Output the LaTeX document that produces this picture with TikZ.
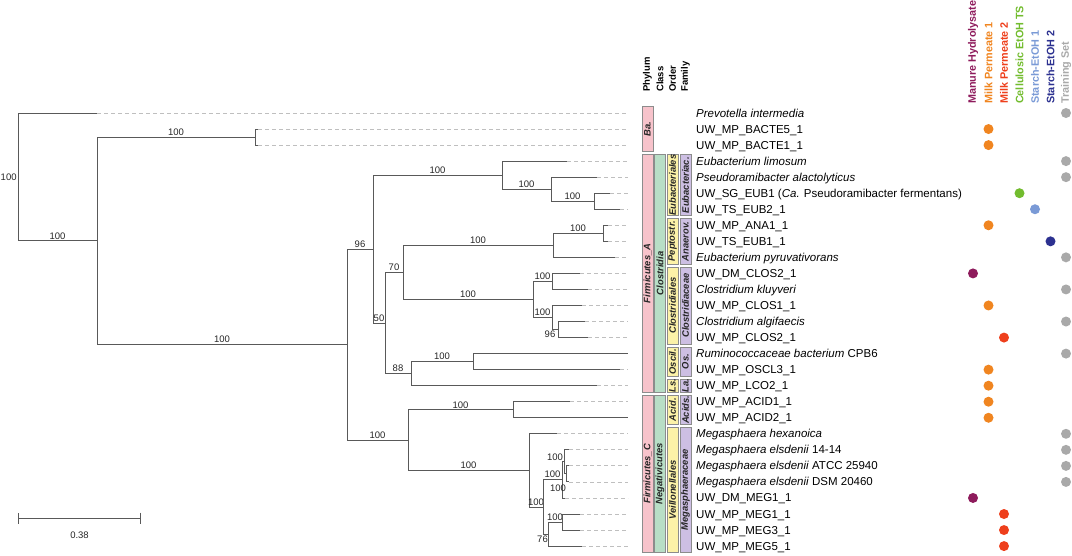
\documentclass[tikz,border=0pt]{standalone}
\usepackage{fontspec}
\setmainfont{Liberation Sans}
\usepackage{xcolor}
\usetikzlibrary{arrows.meta}
\definecolor{set1}{HTML}{8E1B5C}
\definecolor{set2}{HTML}{F08520}
\definecolor{set3}{HTML}{EE3F1C}
\definecolor{set4}{HTML}{72BC2E}
\definecolor{set5}{HTML}{7A9AD6}
\definecolor{set6}{HTML}{2C3190}
\definecolor{set7}{HTML}{A9A9A9}
\definecolor{phylfill}{HTML}{F7C3CB}
\definecolor{classfill}{HTML}{B8DEC6}
\definecolor{orderfill}{HTML}{FCF2A8}
\definecolor{famfill}{HTML}{CDBFE3}
\tikzset{
  treeedge/.style  = {black!65, line width=0.9pt},
  leafdash/.style  = {black!25, line width=0.8pt, dash pattern=on 4pt off 3pt},
  bootlabel/.style = {font=\fontsize{9.5}{10}\selectfont, text=black!85, inner sep=1.2pt},
  leaflabel/.style = {font=\fontsize{11.5}{13}\selectfont, anchor=base west, inner sep=0pt},
  taxtext/.style   = {font=\fontsize{9.4}{10}\selectfont\bfseries\itshape, rotate=90, inner sep=0pt, text=black!85},
  taxhead/.style   = {font=\fontsize{9.5}{10}\selectfont\bfseries, rotate=90, anchor=west, inner sep=0pt},
  sethead/.style   = {font=\fontsize{10.8}{12}\selectfont\bfseries, rotate=90, anchor=west, inner sep=0pt},
  setdot/.style    = {circle, inner sep=0pt, minimum size=10pt},
  phylbar/.style   = {fill=phylfill, draw=black!45, line width=0.6pt},
  classbar/.style  = {fill=classfill, draw=black!45, line width=0.6pt},
  orderbar/.style  = {fill=orderfill, draw=black!45, line width=0.6pt},
  fambar/.style    = {fill=famfill, draw=black!45, line width=0.6pt},
  scalebar/.style  = {treeedge, {Bar[width=11pt]}-{Bar[width=11pt]}},
}
% name, column centre, first row, last row, style, label
\newcommand{\taxbar}[6]{%
  \path[#5] ({#2-5.5},{113+16.04*(#3-1)-6.5}) rectangle ({#2+5.5},{113+16.04*(#4-1)+6.5});
  \node[taxtext] (#1) at (#2,{113+16.04*((#3+#4)/2-1)}) {#6};}

\begin{document}
\begin{tikzpicture}[x=1pt,y=-1pt]
  \useasboundingbox (0,0) rectangle (1072,555);

  % leaves, labels and dataset dots
  \foreach \i/\tip/\ds/\txt in {
    1/97/7/{\textit{Prevotella intermedia}},
    2/258/2/{UW\_MP\_BACTE5\_1},
    3/258/2/{UW\_MP\_BACTE1\_1},
    4/567/7/{\textit{Eubacterium limosum}},
    5/597/7/{\textit{Pseudoramibacter alactolyticus}},
    6/610/4/{UW\_SG\_EUB1 (\textit{Ca.} Pseudoramibacter fermentans)},
    7/620/5/{UW\_TS\_EUB2\_1},
    8/608/2/{UW\_MP\_ANA1\_1},
    9/608/6/{UW\_TS\_EUB1\_1},
    10/615/7/{\textit{Eubacterium pyruvativorans}},
    11/580/1/{UW\_DM\_CLOS2\_1},
    12/588/7/{\textit{Clostridium kluyveri}},
    13/582/2/{UW\_MP\_CLOS1\_1},
    14/585/7/{\textit{Clostridium algifaecis}},
    15/588/3/{UW\_MP\_CLOS2\_1},
    16/628/7/{\textit{Ruminococcaceae bacterium} CPB6},
    17/620/2/{UW\_MP\_OSCL3\_1},
    18/597/2/{UW\_MP\_LCO2\_1},
    19/570/2/{UW\_MP\_ACID1\_1},
    20/628/2/{UW\_MP\_ACID2\_1},
    21/557/7/{\textit{Megasphaera hexanoica}},
    22/569/7/{\textit{Megasphaera elsdenii} 14-14},
    23/569/7/{\textit{Megasphaera elsdenii} ATCC 25940},
    24/569/7/{\textit{Megasphaera elsdenii} DSM 20460},
    25/565/1/{UW\_DM\_MEG1\_1},
    26/580/3/{UW\_MP\_MEG1\_1},
    27/580/3/{UW\_MP\_MEG3\_1},
    28/582/3/{UW\_MP\_MEG5\_1}} {
    \coordinate (L\i) at (\tip,{113+16.04*(\i-1)});
    \coordinate (E\i) at (628,{113+16.04*(\i-1)});
    \draw[leafdash] (L\i) -- (E\i);
    \node[leaflabel] (lab\i) at (696,{113+16.04*(\i-1)+4}) {\txt};
    \node[setdot, fill=set\ds] (dot\i) at ({973+15.5*(\ds-1)},{113+16.04*(\i-1)}) {};
  }

  % internal nodes
  \coordinate (root) at (18,176.9);
  \coordinate (nTop) at (97,240.8);
  \coordinate (nBac) at (255,137.0);
  \coordinate (nA) at (347,344.6);
  \coordinate (nB) at (373,249.1);
  \coordinate (nEub1) at (502,175.1);
  \coordinate (nEub2) at (551,189.2);
  \coordinate (nEub3) at (594,201.2);
  \coordinate (nC70) at (385,323.0);
  \coordinate (nPep) at (403,272.4);
  \coordinate (nAna1) at (553,245.3);
  \coordinate (nAna2) at (603,233.3);
  \coordinate (nClos1) at (533,299.5);
  \coordinate (nClos2) at (552,281.4);
  \coordinate (nClos3) at (552,317.5);
  \coordinate (nClos4) at (558,329.5);
  \coordinate (nOsc1) at (411,373.7);
  \coordinate (nOsc2) at (473,361.6);
  \coordinate (nNeg) at (408,440.1);
  \coordinate (nAcid) at (513,409.8);
  \coordinate (nMo) at (529,470.4);
  \coordinate (nMp) at (543,507.0);
  \coordinate (nMs1) at (562,479.9);
  \coordinate (nMs2) at (564,461.9);
  \coordinate (nMs3) at (566,473.9);
  \coordinate (nMq) at (548,534.0);
  \coordinate (nMr) at (562,522.0);

  % branches
  \node[bootlabel, anchor=east] (bsroot) at (root) {100};
  \draw[treeedge] (root) |- (L1);
  \draw[treeedge] (root) |- node[bootlabel, above, pos=.75] {100} (nTop);
  \draw[treeedge] (nTop) |- node[bootlabel, above, pos=.75] {100} (nBac);
  \draw[treeedge] (nTop) |- node[bootlabel, above, pos=.75] {100} (nA);
  \draw[treeedge] (nBac) |- (L2);
  \draw[treeedge] (nBac) |- (L3);
  \draw[treeedge] (nA) |- node[bootlabel, above, pos=.75] {96} (nB);
  \draw[treeedge] (nA) |- node[bootlabel, above, pos=.75] {100} (nNeg);
  \draw[treeedge] (nB) |- node[bootlabel, above, pos=.75] {100} (nEub1);
  \draw[treeedge] (nB) |- node[bootlabel, above, pos=.75] {50} (nC70);
  \draw[treeedge] (nEub1) |- (L4);
  \draw[treeedge] (nEub1) |- node[bootlabel, above, pos=.75] {100} (nEub2);
  \draw[treeedge] (nEub2) |- (L5);
  \draw[treeedge] (nEub2) |- node[bootlabel, above, pos=.75] {100} (nEub3);
  \draw[treeedge] (nEub3) |- (L6);
  \draw[treeedge] (nEub3) |- (L7);
  \draw[treeedge] (nC70) |- node[bootlabel, above, pos=.75] {70} (nPep);
  \draw[treeedge] (nC70) |- node[bootlabel, above, pos=.75] {88} (nOsc1);
  \draw[treeedge] (nPep) |- node[bootlabel, above, pos=.75] {100} (nAna1);
  \draw[treeedge] (nPep) |- node[bootlabel, above, pos=.75] {100} (nClos1);
  \draw[treeedge] (nAna1) |- node[bootlabel, above, pos=.75] {100} (nAna2);
  \draw[treeedge] (nAna1) |- (L10);
  \draw[treeedge] (nAna2) |- (L8);
  \draw[treeedge] (nAna2) |- (L9);
  \draw[treeedge] (nClos1) |- node[bootlabel, above, pos=.75] {100} (nClos2);
  \draw[treeedge] (nClos1) |- node[bootlabel, above, pos=.75] {100} (nClos3);
  \draw[treeedge] (nClos2) |- (L11);
  \draw[treeedge] (nClos2) |- (L12);
  \draw[treeedge] (nClos3) |- (L13);
  \draw[treeedge] (nClos3) |- node[bootlabel, below, pos=.75, xshift=-5pt] {96} (nClos4);
  \draw[treeedge] (nClos4) |- (L14);
  \draw[treeedge] (nClos4) |- (L15);
  \draw[treeedge] (nOsc1) |- node[bootlabel, above, pos=.75] {100} (nOsc2);
  \draw[treeedge] (nOsc1) |- (L18);
  \draw[treeedge] (nOsc2) |- (L16);
  \draw[treeedge] (nOsc2) |- (L17);
  \draw[treeedge] (nNeg) |- node[bootlabel, above, pos=.75] {100} (nAcid);
  \draw[treeedge] (nNeg) |- node[bootlabel, above, pos=.75] {100} (nMo);
  \draw[treeedge] (nAcid) |- (L19);
  \draw[treeedge] (nAcid) |- (L20);
  \draw[treeedge] (nMo) |- (L21);
  \draw[treeedge] (nMo) |- node[bootlabel, above, pos=.75] {100} (nMp);
  \draw[treeedge] (nMp) |- node[bootlabel, above, pos=.75, yshift=1pt] {100} (nMs1);
  \draw[treeedge] (nMp) |- node[bootlabel, below, pos=.75, xshift=-3pt] {76} (nMq);
  \draw[treeedge] (nMs1) |- node[bootlabel, above, pos=.75, xshift=-8pt] {100} (nMs2);
  \draw[treeedge] (nMs1) |- (L25);
  \draw[treeedge] (nMs2) |- (L22);
  \draw[treeedge] (nMs2) |- node[bootlabel, below, pos=.75, xshift=-7pt, yshift=-9pt] {100} (nMs3);
  \draw[treeedge] (nMs3) |- (L23);
  \draw[treeedge] (nMs3) |- (L24);
  \draw[treeedge] (nMq) |- node[bootlabel, above, pos=.75] {100} (nMr);
  \draw[treeedge] (nMq) |- (L28);
  \draw[treeedge] (nMr) |- (L26);
  \draw[treeedge] (nMr) |- (L27);

  % scale bar
  \coordinate (sbL) at (18,518);
  \coordinate (sbR) at (141,518);
  \draw[scalebar] (sbL) -- (sbR);
  \node[bootlabel] (sblab) at (79.5,535) {0.38};

  % taxonomy strips
  \taxbar{tBa}{647.5}{1}{3}{phylbar}{Ba.}
  \taxbar{tFA}{647.5}{4}{18}{phylbar}{Firmicutes\_A}
  \taxbar{tFC}{647.5}{19}{28}{phylbar}{Firmicutes\_C}
  \taxbar{tClo}{660}{4}{18}{classbar}{Clostridia}
  \taxbar{tNeg}{660}{19}{28}{classbar}{Negativicutes}
  \taxbar{tEubO}{672.5}{4}{7}{orderbar}{Eubacteriales}
  \taxbar{tPepO}{672.5}{8}{10}{orderbar}{Peptostr.}
  \taxbar{tCloO}{672.5}{11}{15}{orderbar}{Clostridiales}
  \taxbar{tOscO}{672.5}{16}{17}{orderbar}{Oscil.}
  \taxbar{tLsO}{672.5}{18}{18}{orderbar}{Ls.}
  \taxbar{tAciO}{672.5}{19}{20}{orderbar}{Acid.}
  \taxbar{tVeiO}{672.5}{21}{28}{orderbar}{Veillonellales}
  \taxbar{tEubF}{685.5}{4}{7}{fambar}{Eubacteriac.}
  \taxbar{tAnaF}{685.5}{8}{10}{fambar}{Anaerov.}
  \taxbar{tCloF}{685.5}{11}{15}{fambar}{Clostridiaceae}
  \taxbar{tOsF}{685.5}{16}{17}{fambar}{Os.}
  \taxbar{tLaF}{685.5}{18}{18}{fambar}{La.}
  \taxbar{tAciF}{685.5}{19}{20}{fambar}{Acids.}
  \taxbar{tMegF}{685.5}{21}{28}{fambar}{Megasphaeraceae}

  % column headers
  \node[taxhead] (hPhylum) at (647.5,92) {Phylum};
  \node[taxhead] (hClass) at (660,92) {Class};
  \node[taxhead] (hOrder) at (672.5,92) {Order};
  \node[taxhead] (hFamily) at (685.5,92) {Family};
  \foreach \ds/\name in {1/Manure Hydrolysate, 2/Milk Permeate 1, 3/Milk Permeate 2,
      4/Cellulosic EtOH TS, 5/Starch-EtOH 1, 6/Starch-EtOH 2, 7/Training Set}
    \node[sethead, text=set\ds] (head\ds) at ({973+15.5*(\ds-1)},104) {\name};
\end{tikzpicture}
\end{document}
